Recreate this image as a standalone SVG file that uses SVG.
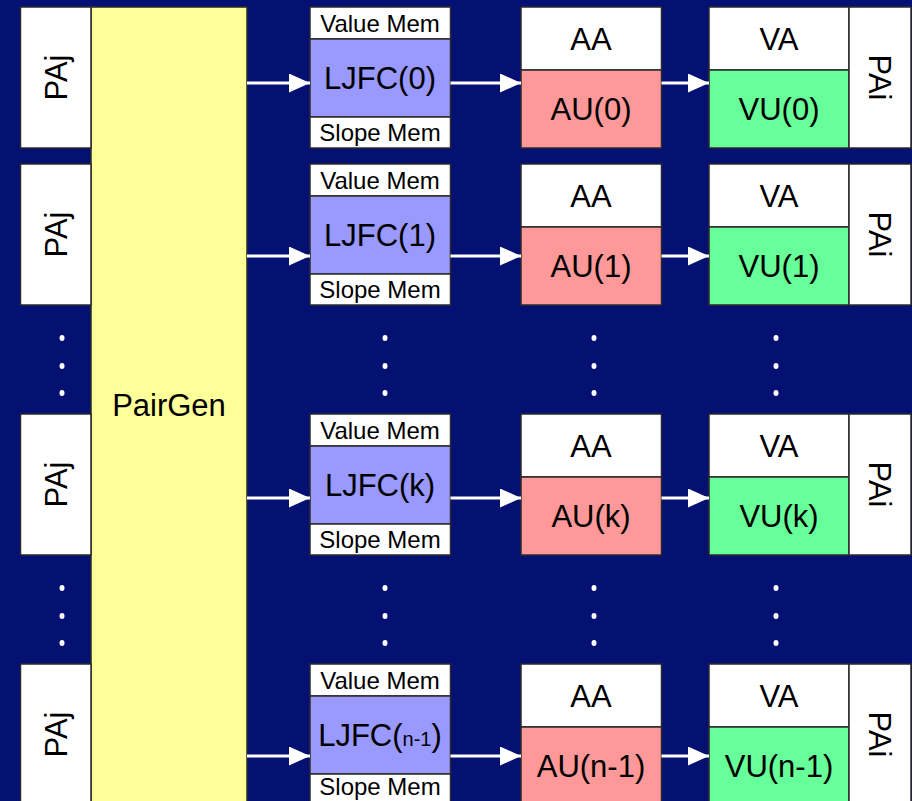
<svg xmlns="http://www.w3.org/2000/svg" width="912" height="801" viewBox="0 0 912 801">
<style>
.box{stroke:#2a2a2a;stroke-width:1.5}
.w{fill:#ffffff}
.y{fill:#ffff99}
.b{fill:#9999ff}
.p{fill:#ff9999}
.g{fill:#66ff99}
text{font-family:"Liberation Sans",Arial,sans-serif;fill:#000;text-anchor:middle}
.big{font-size:31px}
.mem{font-size:24px}
.conn{stroke:#fff;stroke-width:3;fill:none}
.dot{fill:#fff}
</style>
<defs>
<marker id="ah" markerUnits="userSpaceOnUse" markerWidth="21" markerHeight="19" refX="21" refY="9.5" orient="auto">
<path d="M0,0 L21,9.5 L0,19 Z" fill="#fff"/>
</marker>
</defs>
<rect x="0" y="0" width="912" height="801" fill="#041172"/>

<g id="pairgen">
<rect class="box y" x="91" y="7" width="156" height="810"/>
<text class="big" x="169" y="416">PairGen</text>
</g>

<!-- Row 0 -->
<g id="paj0"><rect class="box w" x="20.5" y="7" width="70.5" height="141"/><text class="big" transform="translate(56,77.5) rotate(-90)" y="11.1">PAj</text></g>
<g id="ljfc0">
<rect class="box w" x="310" y="7" width="140.5" height="32"/><text class="mem" x="380" y="31.6">Value Mem</text>
<rect class="box b" x="310" y="39" width="140.5" height="78"/><text class="big" x="380" y="89">LJFC(0)</text>
<rect class="box w" x="310" y="117" width="140.5" height="31"/><text class="mem" x="380" y="141">Slope Mem</text>
</g>
<g id="au0">
<rect class="box w" x="521" y="7" width="140.5" height="63"/><text class="big" x="591" y="49.6">AA</text>
<rect class="box p" x="521" y="70" width="140.5" height="78"/><text class="big" x="591" y="120">AU(0)</text>
</g>
<g id="vu0">
<rect class="box w" x="709" y="7" width="140" height="63"/><text class="big" x="779" y="49.6">VA</text>
<rect class="box g" x="709" y="70" width="140" height="78"/><text class="big" x="779" y="120">VU(0)</text>
</g>
<g id="pai0"><rect class="box w" x="849" y="7" width="62" height="141"/><text class="big" transform="translate(880,77.5) rotate(90)" y="11.1">PAi</text></g>

<!-- Row 1 -->
<g id="paj1"><rect class="box w" x="20.5" y="164" width="70.5" height="141"/><text class="big" transform="translate(56,234.5) rotate(-90)" y="11.1">PAj</text></g>
<g id="ljfc1">
<rect class="box w" x="310" y="164" width="140.5" height="32"/><text class="mem" x="380" y="188.6">Value Mem</text>
<rect class="box b" x="310" y="196" width="140.5" height="78"/><text class="big" x="380" y="246">LJFC(1)</text>
<rect class="box w" x="310" y="274" width="140.5" height="31"/><text class="mem" x="380" y="298">Slope Mem</text>
</g>
<g id="au1">
<rect class="box w" x="521" y="164" width="140.5" height="63"/><text class="big" x="591" y="206.6">AA</text>
<rect class="box p" x="521" y="227" width="140.5" height="78"/><text class="big" x="591" y="277">AU(1)</text>
</g>
<g id="vu1">
<rect class="box w" x="709" y="164" width="140" height="63"/><text class="big" x="779" y="206.6">VA</text>
<rect class="box g" x="709" y="227" width="140" height="78"/><text class="big" x="779" y="277">VU(1)</text>
</g>
<g id="pai1"><rect class="box w" x="849" y="164" width="62" height="141"/><text class="big" transform="translate(880,234.5) rotate(90)" y="11.1">PAi</text></g>

<!-- Row k -->
<g id="pajk"><rect class="box w" x="20.5" y="414" width="70.5" height="141"/><text class="big" transform="translate(56,484.5) rotate(-90)" y="11.1">PAj</text></g>
<g id="ljfck">
<rect class="box w" x="310" y="414" width="140.5" height="32"/><text class="mem" x="380" y="438.6">Value Mem</text>
<rect class="box b" x="310" y="446" width="140.5" height="78"/><text class="big" x="380" y="496">LJFC(k)</text>
<rect class="box w" x="310" y="524" width="140.5" height="31"/><text class="mem" x="380" y="548">Slope Mem</text>
</g>
<g id="auk">
<rect class="box w" x="521" y="414" width="140.5" height="63"/><text class="big" x="591" y="456.6">AA</text>
<rect class="box p" x="521" y="477" width="140.5" height="78"/><text class="big" x="591" y="527">AU(k)</text>
</g>
<g id="vuk">
<rect class="box w" x="709" y="414" width="140" height="63"/><text class="big" x="779" y="456.6">VA</text>
<rect class="box g" x="709" y="477" width="140" height="78"/><text class="big" x="779" y="527">VU(k)</text>
</g>
<g id="paik"><rect class="box w" x="849" y="414" width="62" height="141"/><text class="big" transform="translate(880,484.5) rotate(90)" y="11.1">PAi</text></g>

<!-- Row n-1 -->
<g id="pajn"><rect class="box w" x="20.5" y="664" width="70.5" height="141"/><text class="big" transform="translate(56,734.5) rotate(-90)" y="11.1">PAj</text></g>
<g id="ljfcn">
<rect class="box w" x="310" y="664" width="140.5" height="32"/><text class="mem" x="380" y="688.6">Value Mem</text>
<rect class="box b" x="310" y="696" width="140.5" height="78"/><text class="big" x="380" y="746">LJFC(<tspan font-size="20">n-1</tspan>)</text>
<rect class="box w" x="310" y="774" width="140.5" height="31"/><text class="mem" x="380" y="795">Slope Mem</text>
</g>
<g id="aun">
<rect class="box w" x="521" y="664" width="140.5" height="63"/><text class="big" x="591" y="706.6">AA</text>
<rect class="box p" x="521" y="727" width="140.5" height="78"/><text class="big" x="591" y="777">AU(n-1)</text>
</g>
<g id="vun">
<rect class="box w" x="709" y="664" width="140" height="63"/><text class="big" x="779" y="706.6">VA</text>
<rect class="box g" x="709" y="727" width="140" height="78"/><text class="big" x="779" y="777">VU(n-1)</text>
</g>
<g id="pain"><rect class="box w" x="849" y="664" width="62" height="141"/><text class="big" transform="translate(880,734.5) rotate(90)" y="11.1">PAi</text></g>

<g id="connectors">
<path class="conn" marker-end="url(#ah)" d="M247,83 H310"/>
<path class="conn" marker-end="url(#ah)" d="M450.5,83 H521"/>
<path class="conn" marker-end="url(#ah)" d="M661.5,83 H709"/>
<path class="conn" marker-end="url(#ah)" d="M247,256 H310"/>
<path class="conn" marker-end="url(#ah)" d="M450.5,256 H521"/>
<path class="conn" marker-end="url(#ah)" d="M661.5,256 H709"/>
<path class="conn" marker-end="url(#ah)" d="M247,498 H310"/>
<path class="conn" marker-end="url(#ah)" d="M450.5,498 H521"/>
<path class="conn" marker-end="url(#ah)" d="M661.5,498 H709"/>
<path class="conn" marker-end="url(#ah)" d="M247,756 H310"/>
<path class="conn" marker-end="url(#ah)" d="M450.5,756 H521"/>
<path class="conn" marker-end="url(#ah)" d="M661.5,756 H709"/>
</g>

<g id="ellipsis">
<ellipse class="dot" cx="62" cy="338" rx="2.5" ry="3"/><ellipse class="dot" cx="62" cy="366" rx="2.5" ry="3"/><ellipse class="dot" cx="62" cy="393" rx="2.5" ry="3"/>
<ellipse class="dot" cx="385" cy="338" rx="2.5" ry="3"/><ellipse class="dot" cx="385" cy="366" rx="2.5" ry="3"/><ellipse class="dot" cx="385" cy="393" rx="2.5" ry="3"/>
<ellipse class="dot" cx="594" cy="338" rx="2.5" ry="3"/><ellipse class="dot" cx="594" cy="366" rx="2.5" ry="3"/><ellipse class="dot" cx="594" cy="393" rx="2.5" ry="3"/>
<ellipse class="dot" cx="776" cy="338" rx="2.5" ry="3"/><ellipse class="dot" cx="776" cy="366" rx="2.5" ry="3"/><ellipse class="dot" cx="776" cy="393" rx="2.5" ry="3"/>
<ellipse class="dot" cx="62" cy="588" rx="2.5" ry="3"/><ellipse class="dot" cx="62" cy="616" rx="2.5" ry="3"/><ellipse class="dot" cx="62" cy="643" rx="2.5" ry="3"/>
<ellipse class="dot" cx="385" cy="588" rx="2.5" ry="3"/><ellipse class="dot" cx="385" cy="616" rx="2.5" ry="3"/><ellipse class="dot" cx="385" cy="643" rx="2.5" ry="3"/>
<ellipse class="dot" cx="594" cy="588" rx="2.5" ry="3"/><ellipse class="dot" cx="594" cy="616" rx="2.5" ry="3"/><ellipse class="dot" cx="594" cy="643" rx="2.5" ry="3"/>
<ellipse class="dot" cx="776" cy="588" rx="2.5" ry="3"/><ellipse class="dot" cx="776" cy="616" rx="2.5" ry="3"/><ellipse class="dot" cx="776" cy="643" rx="2.5" ry="3"/>
</g>
</svg>
